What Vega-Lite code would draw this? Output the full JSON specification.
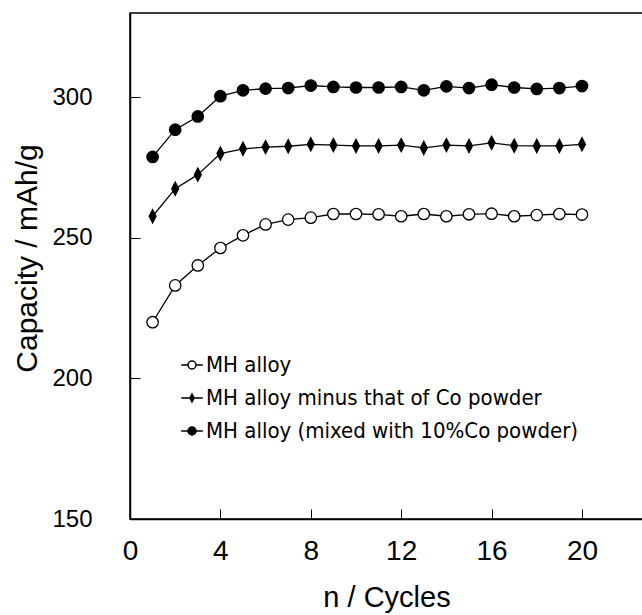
{
  "$schema": "https://vega.github.io/schema/vega-lite/v6.json",
  "autosize": "none",
  "width": 513,
  "height": 506,
  "padding": {"left": 130, "top": 13, "right": 0, "bottom": 96},
  "background": "white",
  "config": {
    "view": {"stroke": "black", "strokeWidth": 1.5},
    "axis": {
      "domainColor": "black", "domainWidth": 1.5,
      "tickColor": "black", "tickWidth": 1, "tickSize": -10,
      "grid": false,
      "labelFont": "Liberation Sans", "labelFontSize": 24, "labelColor": "black",
      "titleFont": "Liberation Sans", "titleFontSize": 30, "titleFontWeight": "normal", "titleColor": "black"
    },
    "legend": {
      "orient": "none", "legendX": 51, "legendY": 341, "padding": 0,
      "labelFont": "DejaVu Sans Condensed", "labelFontSize": 22, "labelColor": "black",
      "labelOffset": 3, "rowPadding": 11, "symbolSize": 64,
      "labelLimit": 600
    }
  },
  "datasets": {"cap": [
    {"n":1,"s":"MH alloy","c":220.0},{"n":2,"s":"MH alloy","c":233.1},{"n":3,"s":"MH alloy","c":240.2},{"n":4,"s":"MH alloy","c":246.4},{"n":5,"s":"MH alloy","c":250.9},{"n":6,"s":"MH alloy","c":254.8},{"n":7,"s":"MH alloy","c":256.5},{"n":8,"s":"MH alloy","c":257.2},{"n":9,"s":"MH alloy","c":258.5},{"n":10,"s":"MH alloy","c":258.5},{"n":11,"s":"MH alloy","c":258.4},{"n":12,"s":"MH alloy","c":257.7},{"n":13,"s":"MH alloy","c":258.5},{"n":14,"s":"MH alloy","c":257.7},{"n":15,"s":"MH alloy","c":258.4},{"n":16,"s":"MH alloy","c":258.6},{"n":17,"s":"MH alloy","c":257.7},{"n":18,"s":"MH alloy","c":258.1},{"n":19,"s":"MH alloy","c":258.5},{"n":20,"s":"MH alloy","c":258.3},
    {"n":1,"s":"MH alloy minus that of Co powder","c":257.7},{"n":2,"s":"MH alloy minus that of Co powder","c":267.5},{"n":3,"s":"MH alloy minus that of Co powder","c":272.5},{"n":4,"s":"MH alloy minus that of Co powder","c":280.0},{"n":5,"s":"MH alloy minus that of Co powder","c":281.7},{"n":6,"s":"MH alloy minus that of Co powder","c":282.3},{"n":7,"s":"MH alloy minus that of Co powder","c":282.6},{"n":8,"s":"MH alloy minus that of Co powder","c":283.3},{"n":9,"s":"MH alloy minus that of Co powder","c":283.0},{"n":10,"s":"MH alloy minus that of Co powder","c":282.7},{"n":11,"s":"MH alloy minus that of Co powder","c":282.7},{"n":12,"s":"MH alloy minus that of Co powder","c":283.0},{"n":13,"s":"MH alloy minus that of Co powder","c":282.0},{"n":14,"s":"MH alloy minus that of Co powder","c":283.0},{"n":15,"s":"MH alloy minus that of Co powder","c":282.7},{"n":16,"s":"MH alloy minus that of Co powder","c":283.8},{"n":17,"s":"MH alloy minus that of Co powder","c":282.8},{"n":18,"s":"MH alloy minus that of Co powder","c":282.7},{"n":19,"s":"MH alloy minus that of Co powder","c":282.7},{"n":20,"s":"MH alloy minus that of Co powder","c":283.3},
    {"n":1,"s":"MH alloy (mixed with 10%Co powder)","c":278.8},{"n":2,"s":"MH alloy (mixed with 10%Co powder)","c":288.5},{"n":3,"s":"MH alloy (mixed with 10%Co powder)","c":293.2},{"n":4,"s":"MH alloy (mixed with 10%Co powder)","c":300.4},{"n":5,"s":"MH alloy (mixed with 10%Co powder)","c":302.5},{"n":6,"s":"MH alloy (mixed with 10%Co powder)","c":303.1},{"n":7,"s":"MH alloy (mixed with 10%Co powder)","c":303.3},{"n":8,"s":"MH alloy (mixed with 10%Co powder)","c":304.2},{"n":9,"s":"MH alloy (mixed with 10%Co powder)","c":303.7},{"n":10,"s":"MH alloy (mixed with 10%Co powder)","c":303.5},{"n":11,"s":"MH alloy (mixed with 10%Co powder)","c":303.5},{"n":12,"s":"MH alloy (mixed with 10%Co powder)","c":303.7},{"n":13,"s":"MH alloy (mixed with 10%Co powder)","c":302.5},{"n":14,"s":"MH alloy (mixed with 10%Co powder)","c":303.9},{"n":15,"s":"MH alloy (mixed with 10%Co powder)","c":303.3},{"n":16,"s":"MH alloy (mixed with 10%Co powder)","c":304.5},{"n":17,"s":"MH alloy (mixed with 10%Co powder)","c":303.5},{"n":18,"s":"MH alloy (mixed with 10%Co powder)","c":303.0},{"n":19,"s":"MH alloy (mixed with 10%Co powder)","c":303.3},{"n":20,"s":"MH alloy (mixed with 10%Co powder)","c":304.0}
  ]},
  "data": {"name": "cap"},
  "encoding": {
    "x": {"field": "n", "type": "quantitative", "scale": {"domain": [0, 22.7], "nice": false, "zero": false},
          "axis": {"values": [0, 4, 8, 12, 16, 20], "labelPadding": 28, "labelFontSize": 28, "title": "n / Cycles", "titlePadding": 18, "titleFontSize": 29, "labelFlush": false}},
    "y": {"field": "c", "type": "quantitative", "scale": {"domain": [150, 330], "nice": false, "zero": false},
          "axis": {"values": [150, 200, 250, 300], "labelPadding": 48, "title": "Capacity / mAh/g", "titlePadding": 9, "titleY": 245, "labelFlush": false}}
  },
  "layer": [
    {"mark": {"type": "line", "color": "black", "strokeWidth": 1.3},
     "encoding": {"detail": {"field": "s"}, "order": {"field": "n"}}},
    {"mark": {"type": "point", "filled": true, "stroke": "black", "strokeWidth": 1.3, "opacity": 1, "size": 130},
     "encoding": {
       "shape": {"field": "s", "type": "nominal",
                 "scale": {"domain": ["MH alloy", "MH alloy minus that of Co powder", "MH alloy (mixed with 10%Co powder)"],
                           "range": ["circle", "M0,-1.15L0.6,0L0,1.15L-0.6,0Z", "circle"]},
                 "legend": null},
       "fill": {"field": "s", "type": "nominal",
                "scale": {"domain": ["MH alloy", "MH alloy minus that of Co powder", "MH alloy (mixed with 10%Co powder)"],
                          "range": ["white", "black", "black"]},
                "legend": null}
     }},
    {"transform": [{"filter": "datum.n < 0"}],
     "mark": {"type": "point", "filled": true, "stroke": "black", "strokeWidth": 1.3, "opacity": 1},
     "encoding": {
       "shape": {"field": "s", "type": "nominal",
                 "scale": {"domain": ["MH alloy", "MH alloy minus that of Co powder", "MH alloy (mixed with 10%Co powder)"],
                           "range": ["M-2.7,0H-1M1,0H2.7M-1,0A1,1 0 1,0 1,0A1,1 0 1,0 -1,0Z", "M-2.7,0H-0.5M0.5,0H2.7M0,-1L0.55,0L0,1L-0.55,0Z", "M-2.7,0H-1M1,0H2.7M-1,0A1,1 0 1,0 1,0A1,1 0 1,0 -1,0Z"]},
                 "legend": {"title": null}},
       "fill": {"field": "s", "type": "nominal",
                "scale": {"domain": ["MH alloy", "MH alloy minus that of Co powder", "MH alloy (mixed with 10%Co powder)"],
                          "range": ["white", "black", "black"]},
                "legend": {"title": null}}
     }}
  ],
  "resolve": {"scale": {"shape": "independent", "fill": "independent"}, "legend": {"shape": "independent", "fill": "independent"}}
}
